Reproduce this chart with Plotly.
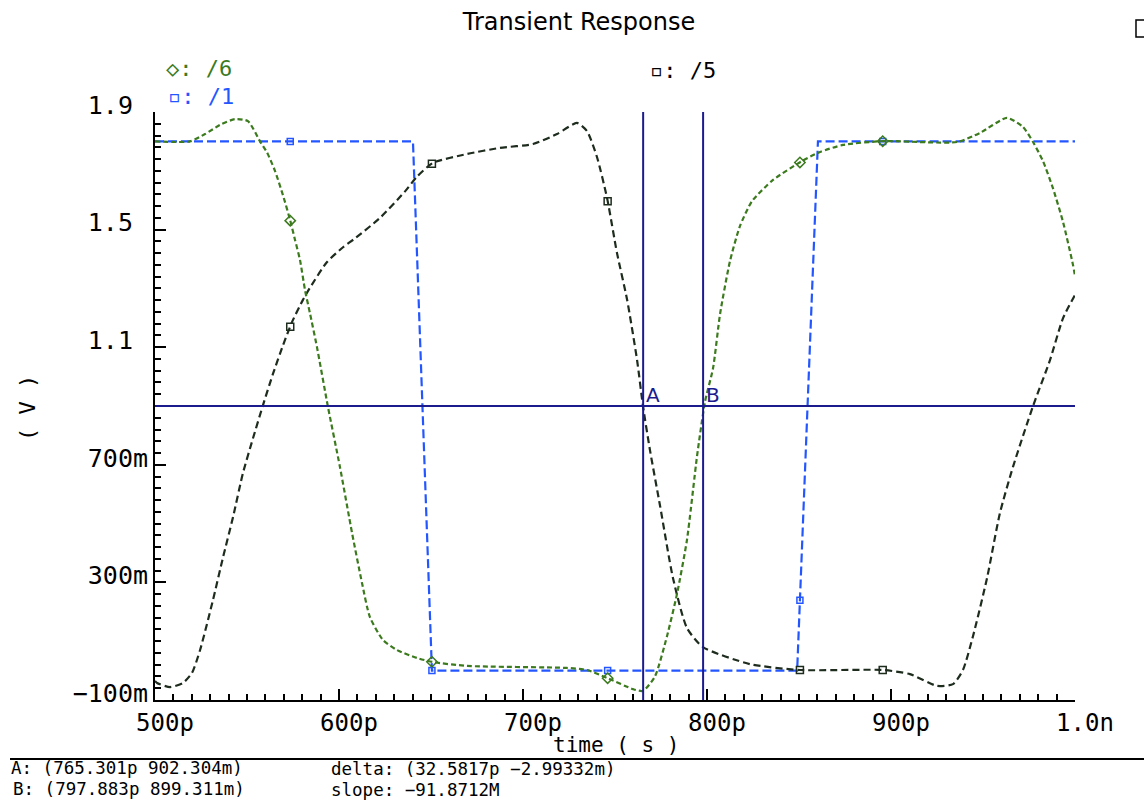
import numpy as np
import plotly.graph_objects as go

# ---- data (time in ps, voltage in V) ----
t6 = [500, 519.0, 527.2, 535.3, 543.5, 550.5, 557.1, 560.9, 565.2, 569.6, 573.4, 576.1, 578.8,
      581.5, 584.2, 588.0, 594.0, 600.5, 607.1, 612.5, 616.8, 623.9, 631.5, 642.4, 651.1, 669.6,
      723.9, 734.8, 745.7, 759.8, 765.2, 771.7, 778.3, 783.7, 789.1, 794.6, 798.9, 803.3, 807.1,
      812.5, 817.9, 824.5, 835.9, 851.6, 861.4, 873.9, 895.7, 935.9, 948.4, 963.0, 971.7, 977.2,
      982.6, 988.0, 993.5, 998.9, 1000]
v6 = [1.80, 1.80, 1.825, 1.856, 1.876, 1.869, 1.800, 1.762, 1.700, 1.616, 1.533, 1.465, 1.397,
      1.295, 1.216, 1.101, 0.897, 0.693, 0.468, 0.298, 0.182, 0.104, 0.070, 0.043, 0.029, 0.016,
      0.009, 0.002, -0.025, -0.063, -0.069, -0.020, 0.118, 0.261, 0.444, 0.730, 0.914, 1.029, 1.213,
      1.393, 1.512, 1.597, 1.669, 1.733, 1.764, 1.788, 1.801, 1.798, 1.829, 1.880, 1.849, 1.798,
      1.733, 1.641, 1.526, 1.380, 1.342]

t5 = [500, 501.1, 508.2, 515.2, 520.1, 524.5, 531.5, 537.0, 542.4, 547.8, 553.3, 558.7, 564.1, 569.6,
      574.5, 580.4, 584.0, 593.5, 602.2, 608.7, 622.3, 635.9, 642.4, 651.1, 669.6, 687.5, 705.4, 718.5,
      729.3, 734.8, 740.2, 745.7, 751.1, 756.5, 762.0, 765.2, 769.0, 774.5, 781.5, 789.1, 797.8,
      823.4, 850.5, 895.7, 910.3, 925.0, 933.7, 939.1, 944.6, 952.2, 959.2, 966.3, 977.2, 986.4,
      993.5, 1000]
v5 = [-0.035, -0.042, -0.056, -0.042, -0.008, 0.070, 0.240, 0.386, 0.522, 0.672, 0.791, 0.903, 1.009, 1.107,
      1.186, 1.261, 1.300, 1.390, 1.440, 1.470, 1.540, 1.630, 1.680, 1.727, 1.757, 1.778, 1.791, 1.825,
      1.863, 1.835, 1.747, 1.607, 1.420, 1.264, 1.056, 0.900, 0.750, 0.560, 0.315, 0.145, 0.080,
      0.022, 0.002, 0.002, -0.012, -0.052, -0.046, 0.002, 0.118, 0.315, 0.536, 0.693, 0.900, 1.056,
      1.199, 1.278]

t1 = [500, 640.2, 650.5, 849.0, 860.3, 1000]
v1 = [1.8, 1.8, 0.0, 0.0, 1.8, 1.8]

marker_t = [573.5, 650.5, 746.0, 850.5, 895.5]

x_tickvals = [500, 600, 700, 800, 900, 1000]
x_ticktext = ["500p", "600p", "700p", "800p", "900p", "1.0n"]
y_tickvals = [-0.1, 0.3, 0.7, 1.1, 1.5, 1.9]
y_ticktext = ["\u2212100m", "300m", "700m", "1.1\u00a0", "1.5\u00a0", "1.9\u00a0"]

cursor_a = (765.301, 0.902304)
cursor_b = (797.883, 0.899311)
cursor_h = 0.9

GREEN = "#3c7a1e"
BLUE = "#2456ff"
DARK = "#1e2c1e"
NAVY = "#1b1b8e"
MONO = "DejaVu Sans Mono"

fig = go.Figure()

def add_series(t, v, color, dash, symbol, msize):
    fig.add_trace(go.Scatter(x=t, y=v, mode="lines",
                             line=dict(color=color, width=2.2, dash=dash, shape="spline", smoothing=0.6),
                             hoverinfo="skip", showlegend=False))
    mv = np.interp(marker_t, t, v)
    fig.add_trace(go.Scatter(x=marker_t, y=mv, mode="markers",
                             marker=dict(symbol=symbol, size=msize, color=color,
                                         line=dict(color=color, width=1.5)),
                             hoverinfo="skip", showlegend=False))

fig.add_trace(go.Scatter(x=t1, y=v1, mode="lines",
                         line=dict(color=BLUE, width=2.2, dash="9px,4px"),
                         hoverinfo="skip", showlegend=False))
fig.add_trace(go.Scatter(x=marker_t, y=np.interp(marker_t, t1, v1), mode="markers",
                         marker=dict(symbol="square-open", size=6, color=BLUE,
                                     line=dict(color=BLUE, width=1.5)),
                         hoverinfo="skip", showlegend=False))
add_series(t5, v5, DARK, "7px,4px", "square-open", 7)
add_series(t6, v6, GREEN, "5px,3px", "diamond-open", 8)

# cursors
fig.add_shape(type="line", xref="x", yref="y", x0=500, x1=1000, y0=cursor_h, y1=cursor_h,
              line=dict(color=NAVY, width=2))
for cx in (cursor_a[0], cursor_b[0]):
    fig.add_shape(type="line", xref="x", yref="y", x0=cx, x1=cx, y0=-0.1, y1=1.9,
                  line=dict(color=NAVY, width=2))
for lbl, cx in (("A", cursor_a[0]), ("B", cursor_b[0])):
    fig.add_annotation(x=cx, y=cursor_h, xref="x", yref="y", text=lbl, showarrow=False,
                       xanchor="left", yanchor="bottom", xshift=1, yshift=-3,
                       font=dict(family="DejaVu Sans", size=20, color=NAVY))

# separator line below the x axis
fig.add_shape(type="line", xref="paper", yref="paper", x0=-0.1576, x1=1.08, y0=-0.1003, y1=-0.1003,
              line=dict(color="black", width=2))
# small window icon in the top-right corner
fig.add_shape(type="rect", xref="paper", yref="paper", x0=1.0663, x1=1.085, y0=1.1276, y1=1.1565,
              line=dict(color="black", width=1.5))

def ann(text, x, y, color="black", size=20, xanchor="left", family=MONO, angle=0):
    fig.add_annotation(x=x, y=y, xref="paper", yref="paper", text=text, showarrow=False,
                       xanchor=xanchor, yanchor="middle", textangle=angle, borderpad=0,
                       font=dict(family=family, size=size, color=color))

ann("\u25c7: /6", 0.0109, 1.0748, GREEN, 22)
ann("\u25ab: /1", 0.0130, 1.027, BLUE, 22)
ann("\u25ab: /5", 0.537, 1.0714, "black", 22)
ann("( V )", -0.138, 0.4966, size=22, xanchor="center", angle=-90)
ann("time ( s )", 0.501, -0.0765, size=21, xanchor="center")
ann("A: (765.301p 902.304m)", -0.1576, -0.1156, size=17.5)
ann("B: (797.883p 899.311m)", -0.1554, -0.1514, size=17.5)
ann("delta: (32.5817p \u22122.99332m)", 0.1902, -0.1176, size=17.5)
ann("slope: \u221291.8712M", 0.1902, -0.1530, size=17.5)

fig.update_layout(
    width=1144, height=804,
    margin=dict(l=155, r=69, t=112, b=104),
    paper_bgcolor="white", plot_bgcolor="white",
    title=dict(text="Transient Response", x=579 / 1144, xanchor="center",
               y=1 - 22 / 804, yanchor="middle",
               font=dict(family="DejaVu Sans", size=24, color="black")),
    xaxis=dict(range=[500, 1000], showgrid=False, zeroline=False, showline=True,
               linecolor="black", linewidth=2, ticks="inside", ticklen=11, tickwidth=2,
               tickcolor="black", tickvals=x_tickvals, ticktext=x_ticktext,
               tickfont=dict(family=MONO, size=24, color="black"), ticklabelshift=10,
               minor=dict(ticks="inside", ticklen=6, tickwidth=1.5, tickcolor="black",
                          dtick=10, tick0=500, showgrid=False)),
    yaxis=dict(range=[-0.1, 1.9], showgrid=False, zeroline=False, showline=True,
               linecolor="black", linewidth=2, ticks="inside", ticklen=11, tickwidth=2,
               tickcolor="black", tickvals=y_tickvals, ticktext=y_ticktext,
               tickfont=dict(family=MONO, size=25, color="black"), ticklabelshift=-7,
               minor=dict(ticks="inside", ticklen=6, tickwidth=1.5, tickcolor="black",
                          dtick=0.04, tick0=-0.1, showgrid=False)),
)

fig.write_html("out.html", config={"displayModeBar": False},
               post_script="document.body.style.margin='0';")
